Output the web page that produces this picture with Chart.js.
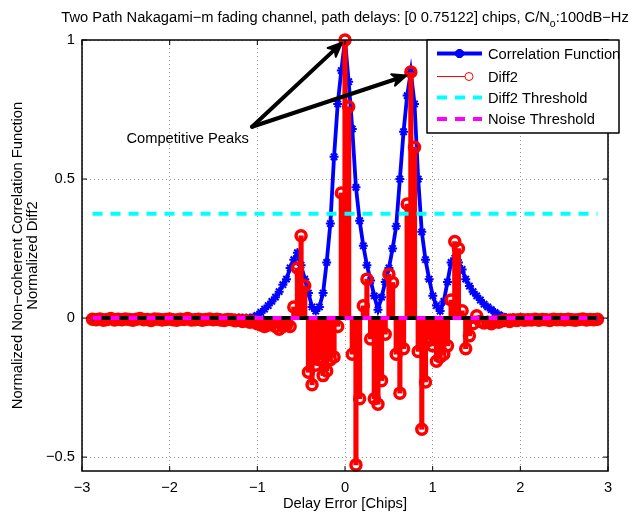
<!DOCTYPE html>
<html>
<head>
<meta charset="utf-8">
<script src="https://cdn.jsdelivr.net/npm/chart.js@4/dist/chart.umd.min.js"></script>
<style>
html,body{margin:0;padding:0;background:#fff;}
#wrap{width:634px;height:515px;position:relative;}
</style>
</head>
<body>
<div id="wrap"><canvas id="c" width="634" height="515"></canvas></div>
<script>
// ---- data ----
const delays = [
-2.880,-2.838,-2.796,-2.754,-2.713,-2.671,-2.629,-2.588,-2.546,-2.504,
-2.462,-2.421,-2.379,-2.337,-2.295,-2.254,-2.212,-2.170,-2.128,-2.087,
-2.045,-2.003,-1.962,-1.920,-1.878,-1.836,-1.795,-1.753,-1.711,-1.669,
-1.628,-1.586,-1.544,-1.502,-1.461,-1.419,-1.377,-1.336,-1.294,-1.252,
-1.210,-1.169,-1.127,-1.085,-1.043,-1.002,-0.960,-0.918,-0.876,-0.835,
-0.793,-0.751,-0.709,-0.668,-0.626,-0.584,-0.543,-0.501,-0.459,-0.417,
-0.376,-0.334,-0.292,-0.250,-0.209,-0.167,-0.125,-0.083,-0.042,0,
0.042,0.083,0.125,0.167,0.209,0.250,0.292,0.334,0.376,0.417,
0.459,0.501,0.543,0.584,0.626,0.668,0.709,0.751,0.793,0.835,
0.876,0.918,0.960,1.002,1.043,1.085,1.127,1.169,1.210,1.252,
1.294,1.336,1.377,1.419,1.461,1.502,1.544,1.586,1.628,1.669,
1.711,1.753,1.795,1.836,1.878,1.920,1.962,2.003,2.045,2.087,
2.128,2.170,2.212,2.254,2.295,2.337,2.379,2.421,2.462,2.504,
2.546,2.588,2.629,2.671,2.713,2.754,2.796,2.838,2.880
];
const correlation = [
0,0,0,0,0,0,0,0,0,0,
0,0,0,0,0,0,0,0,0,0,
0,0,0,0,0,0,0,0,0,0,
0,0,0,0,0,0,0,0,0,0,
0,0,0,0,0.003,0.01,0.02,0.032,0.045,0.06,
0.075,0.095,0.12,0.14,0.18,0.21,0.235,0.19,0.14,0.09,
0.04,0.025,0.04,0.09,0.2,0.34,0.58,0.77,0.89,1.0,
0.85,0.68,0.47,0.35,0.26,0.19,0.135,0.08,0.03,0.075,
0.13,0.18,0.25,0.33,0.5,0.67,0.8,0.885,0.77,0.5,
0.31,0.21,0.14,0.08,0.045,0.025,0.06,0.13,0.2,0.215,
0.2,0.175,0.14,0.115,0.095,0.08,0.065,0.05,0.04,0.03,
0.02,0.012,0.006,0.002,0,0,0,0,0,0,
0,0,0,0,0,0,0,0,0,0,
0,0,0,0,0,0,0,0,0
];
const diff2 = [
-0.004,-0.006,-0.003,-0.008,-0.005,-0.002,-0.007,-0.004,-0.006,-0.003,
-0.005,-0.008,-0.004,-0.002,-0.006,-0.005,-0.009,-0.003,-0.004,-0.007,
-0.005,-0.003,-0.006,-0.008,-0.004,-0.005,-0.002,-0.007,-0.006,-0.004,
-0.008,-0.005,-0.003,-0.006,-0.004,-0.007,-0.009,-0.005,-0.006,-0.01,
-0.008,-0.012,-0.01,-0.015,-0.012,-0.02,-0.025,-0.03,-0.025,-0.02,
-0.03,-0.04,-0.03,-0.025,-0.03,0.04,0.18,0.296,0.116,-0.195,
-0.24,-0.17,-0.15,-0.207,-0.19,-0.15,-0.14,-0.03,0.45,1.0,
0.76,-0.13,-0.528,-0.29,0.044,0.14,-0.075,-0.29,-0.31,-0.225,
-0.058,0.158,0.128,-0.13,-0.27,-0.11,0.41,0.885,0.614,-0.12,
-0.4,-0.23,-0.08,-0.1,-0.155,-0.14,-0.13,-0.1,0.065,0.275,
0.25,0.026,-0.11,-0.064,-0.02,0.008,-0.012,-0.018,-0.015,-0.02,
-0.012,-0.015,-0.01,-0.008,-0.012,-0.006,-0.009,-0.005,-0.008,-0.006,
-0.007,-0.004,-0.008,-0.005,-0.006,-0.009,-0.004,-0.006,-0.005,-0.007,
-0.004,-0.006,-0.008,-0.005,-0.003,-0.007,-0.005,-0.006,-0.004
];
const diff2Threshold = 0.375;
const noiseThreshold = 0;
const xTicks = [-3,-2,-1,0,1,2,3];
const yTicks = [-0.5,0,0.5,1];
const xRange = [-3, 3];
const yRange = [-0.55, 1];
const seriesNames = ['Correlation Function','Diff2','Diff2 Threshold','Noise Threshold'];
const titleMain = 'Two Path Nakagami\u2212m fading channel, path delays: [0 0.75122] chips, C/N';
const titleSub = 'o';
const titleEnd = ':100dB\u2212Hz';
const xTitle = 'Delay Error [Chips]';
const yTitle = ['Normalized Non\u2212coherent Correlation Function','Normalized Diff2'];
const annotationText = 'Competitive Peaks';
const annotationTextAt = {x: -1.097, y: 0.644};
const annotationFrom = {x: -1.06, y: 0.688};
const annotationTargets = [{x: -0.035, y: 0.99}, {x: 0.70, y: 0.872}];

// ---- chart ----
const FONT = '"Liberation Sans", Arial, Helvetica, sans-serif';
const FS = 14.7;
Chart.defaults.font.family = FONT;
Chart.defaults.font.size = FS;
Chart.defaults.color = '#000';

const pts = ys => delays.map((x, i) => ({x: x, y: ys[i]}));
const xFirst = delays[0], xLast = delays[delays.length - 1];
const fmt = v => String(v).replace('-', '\u2212');

const BLUE = '#0000ff', RED = '#ff0000', CYAN = '#00ffff', MAGENTA = '#ff00ff';

const decor = {
  id: 'decor',
  afterDatasetsDraw(chart) {
    const {ctx, chartArea: a, scales: {x, y}} = chart;
    ctx.save();
    // axes box
    ctx.strokeStyle = '#000';
    ctx.lineWidth = 1.5;
    ctx.strokeRect(a.left, a.top, a.right - a.left, a.bottom - a.top);
    // inner ticks
    ctx.lineWidth = 1;
    ctx.beginPath();
    xTicks.forEach(v => {
      const p = x.getPixelForValue(v);
      ctx.moveTo(p, a.bottom); ctx.lineTo(p, a.bottom - 5);
      ctx.moveTo(p, a.top); ctx.lineTo(p, a.top + 5);
    });
    yTicks.forEach(v => {
      const p = y.getPixelForValue(v);
      ctx.moveTo(a.left, p); ctx.lineTo(a.left + 5, p);
      ctx.moveTo(a.right, p); ctx.lineTo(a.right - 5, p);
    });
    ctx.stroke();

    // annotation arrows
    const sx = x.getPixelForValue(annotationFrom.x), sy = y.getPixelForValue(annotationFrom.y);
    ctx.fillStyle = '#000';
    ctx.strokeStyle = '#000';
    annotationTargets.forEach(t => {
      const ex = x.getPixelForValue(t.x), ey = y.getPixelForValue(t.y);
      const ang = Math.atan2(ey - sy, ex - sx);
      const hl = 14, hw = 6;
      const bx = ex - hl * Math.cos(ang), by = ey - hl * Math.sin(ang);
      ctx.lineWidth = 4;
      ctx.lineCap = 'round';
      ctx.beginPath(); ctx.moveTo(sx, sy); ctx.lineTo(bx + 4 * Math.cos(ang), by + 4 * Math.sin(ang)); ctx.stroke();
      ctx.lineWidth = 2;
      ctx.lineJoin = 'round';
      ctx.beginPath();
      ctx.moveTo(ex, ey);
      ctx.lineTo(bx - hw * Math.sin(ang), by + hw * Math.cos(ang));
      ctx.lineTo(bx + 4 * Math.cos(ang), by + 4 * Math.sin(ang));
      ctx.lineTo(bx + hw * Math.sin(ang), by - hw * Math.cos(ang));
      ctx.closePath(); ctx.fill(); ctx.stroke();
    });
    ctx.font = FS + 'px ' + FONT;
    ctx.textAlign = 'right';
    ctx.textBaseline = 'middle';
    ctx.fillText(annotationText, x.getPixelForValue(annotationTextAt.x), y.getPixelForValue(annotationTextAt.y));

    // legend
    const L = a.right - 181, T = a.top, W = 192, H = 93;
    ctx.fillStyle = '#fff';
    ctx.fillRect(L, T, W, H);
    ctx.strokeStyle = '#000';
    ctx.lineWidth = 1.5;
    ctx.strokeRect(L, T, W, H);
    const rows = [13.5, 36.5, 57.5, 79];
    const sx0 = L + 10, sx1 = L + 55, tx = L + 61;
    // 1 correlation
    ctx.lineCap = 'butt';
    ctx.strokeStyle = BLUE; ctx.lineWidth = 4;
    ctx.beginPath(); ctx.moveTo(sx0, T + rows[0]); ctx.lineTo(sx1, T + rows[0]); ctx.stroke();
    Chart.helpers.drawPoint(ctx, {pointStyle: 'star', radius: 4.5, borderWidth: 2.5}, (sx0 + sx1) / 2, T + rows[0]);
    // 2 diff2
    ctx.strokeStyle = RED; ctx.lineWidth = 1;
    ctx.beginPath(); ctx.moveTo(sx0, T + rows[1]); ctx.lineTo(sx0 + 28, T + rows[1]); ctx.stroke();
    ctx.beginPath(); ctx.arc(sx0 + 32, T + rows[1], 4, 0, Math.PI * 2); ctx.stroke();
    // 3,4 thresholds
    [[CYAN, rows[2]], [MAGENTA, rows[3]]].forEach(([c, r]) => {
      ctx.strokeStyle = c; ctx.lineWidth = 4; ctx.setLineDash([10, 8]);
      ctx.beginPath(); ctx.moveTo(sx0, T + r); ctx.lineTo(sx1, T + r); ctx.stroke();
    });
    ctx.setLineDash([]);
    ctx.fillStyle = '#000';
    ctx.textAlign = 'left';
    ctx.font = FS + 'px ' + FONT;
    seriesNames.forEach((n, i) => ctx.fillText(n, tx, T + rows[i] + 1));

    // title
    const cx = (a.left + a.right) / 2;
    ctx.font = FS + 'px ' + FONT;
    const w1 = ctx.measureText(titleMain).width;
    const w3 = ctx.measureText(titleEnd).width;
    ctx.font = '10.5px ' + FONT;
    const w2 = ctx.measureText(titleSub).width;
    let x0 = cx - (w1 + w2 + w3) / 2;
    ctx.textBaseline = 'alphabetic';
    ctx.font = FS + 'px ' + FONT;
    ctx.fillText(titleMain, x0, 22);
    ctx.font = '10.5px ' + FONT;
    ctx.fillText(titleSub, x0 + w1, 27);
    ctx.font = FS + 'px ' + FONT;
    ctx.fillText(titleEnd, x0 + w1 + w2, 22);
    ctx.restore();
  }
};

new Chart(document.getElementById('c'), {
  type: 'line',
  data: {
    datasets: [
      {type: 'line', label: seriesNames[0], data: pts(correlation), borderColor: BLUE, borderWidth: 3.8,
       pointStyle: 'star', pointRadius: 4.5, pointBorderWidth: 2, pointBorderColor: BLUE, pointBackgroundColor: BLUE,
       tension: 0, order: 6},
      {type: 'bar', label: seriesNames[1], data: pts(diff2), backgroundColor: RED, borderWidth: 0,
       barThickness: 4.5, order: 5},
      {type: 'line', label: seriesNames[1] + ' markers', data: pts(diff2), showLine: false,
       pointStyle: 'circle', pointRadius: 5, pointBorderWidth: 3.5, pointBorderColor: RED,
       pointBackgroundColor: 'rgba(0,0,0,0)', order: 4, clip: false},
      {type: 'line', label: seriesNames[2], data: [{x: xFirst, y: diff2Threshold}, {x: xLast, y: diff2Threshold}],
       borderColor: CYAN, borderWidth: 4, borderDash: [10, 8], pointRadius: 0, order: 3},
      {type: 'line', label: 'baseline', data: [{x: xFirst, y: 0}, {x: xLast, y: 0}],
       borderColor: '#000', borderWidth: 4, pointRadius: 0, order: 2},
      {type: 'line', label: seriesNames[3], data: [{x: xFirst, y: noiseThreshold}, {x: xLast, y: noiseThreshold}],
       borderColor: MAGENTA, borderWidth: 4, borderDash: [9, 9], pointRadius: 0, order: 1}
    ]
  },
  options: {
    responsive: false,
    animation: false,
    devicePixelRatio: 1,
    events: [],
    layout: {padding: {top: 40, right: 26, left: 0, bottom: 0}},
    plugins: {legend: {display: false}, title: {display: false}, tooltip: {enabled: false}},
    scales: {
      x: {
        type: 'linear', min: xRange[0], max: xRange[1], offset: false,
        afterFit: s => { s.height = 44; },
        afterBuildTicks: s => { s.ticks = xTicks.map(v => ({value: v})); },
        ticks: {callback: v => fmt(v), padding: 8, maxRotation: 0, autoSkip: false, font: {size: FS}},
        grid: {color: 'rgba(0,0,0,0.4)', lineWidth: 1, drawTicks: false, offset: false},
        border: {display: false, dash: [1, 3]},
        title: {display: true, text: xTitle, font: {size: FS, lineHeight: 1.1}, padding: {top: 0, bottom: 3}}
      },
      y: {
        type: 'linear', min: yRange[0], max: yRange[1],
        afterFit: s => { s.width = 82; },
        afterBuildTicks: s => { s.ticks = yTicks.map(v => ({value: v})); },
        ticks: {callback: v => fmt(v), padding: 7, font: {size: FS}},
        grid: {color: 'rgba(0,0,0,0.4)', lineWidth: 1, drawTicks: false},
        border: {display: false, dash: [1, 3]},
        title: {display: true, text: yTitle, font: {size: FS, lineHeight: 1.05}, padding: {top: 10, bottom: 0}}
      }
    }
  },
  plugins: [decor]
});
</script>
</body>
</html>
